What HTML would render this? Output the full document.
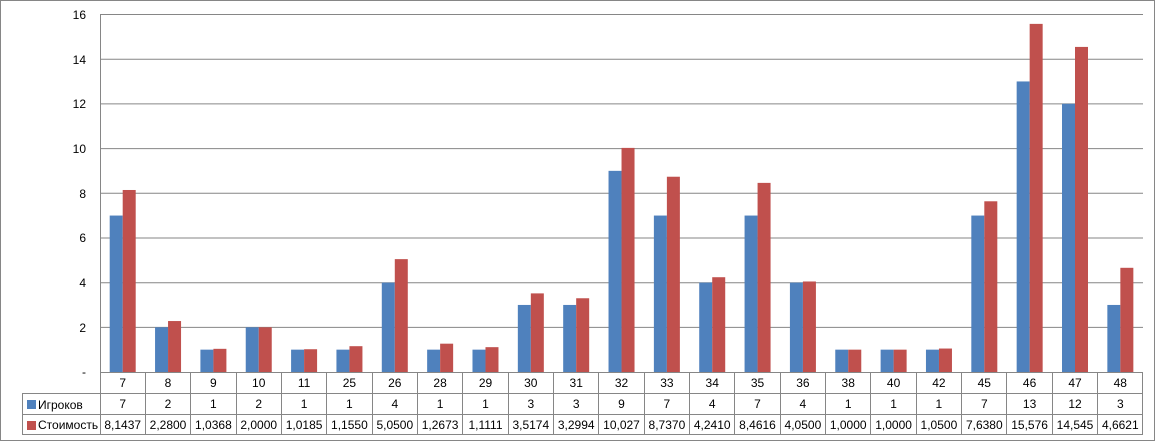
<!DOCTYPE html>
<html><head><meta charset="utf-8"><style>
html,body{margin:0;padding:0;background:#fff}
svg{display:block;font-family:"Liberation Sans",sans-serif;font-size:12px}
</style></head><body>
<svg width="1156" height="443" viewBox="0 0 1156 443">
<rect x="0.5" y="0.5" width="1154" height="440" fill="#fff" stroke="#868686"/>
<g stroke="#868686" stroke-width="1">
<line x1="100" y1="14.5" x2="1143" y2="14.5"/>
<line x1="100" y1="59.2" x2="1143" y2="59.2"/>
<line x1="100" y1="103.9" x2="1143" y2="103.9"/>
<line x1="100" y1="148.6" x2="1143" y2="148.6"/>
<line x1="100" y1="193.3" x2="1143" y2="193.3"/>
<line x1="100" y1="238" x2="1143" y2="238"/>
<line x1="100" y1="282.7" x2="1143" y2="282.7"/>
<line x1="100" y1="327.4" x2="1143" y2="327.4"/>
<line x1="100.5" y1="14.5" x2="100.5" y2="434"/>
</g>
<g fill="#000" text-anchor="end">
<text x="86" y="19">16</text><text x="86" y="64">14</text><text x="86" y="108">12</text><text x="86" y="153">10</text>
<text x="86" y="198">8</text><text x="86" y="242">6</text><text x="86" y="287">4</text><text x="86" y="332">2</text><text x="86" y="376">-</text>
</g>
<g transform="translate(0,372) scale(1,-22.35)">
<g transform="translate(100,0)"><rect x="9.7" width="13" height="7" fill="#4f81bd"/><rect x="22.7" width="13" height="8.1437" fill="#c0504d"/></g>
<g transform="translate(145.35,0)"><rect x="9.7" width="13" height="2" fill="#4f81bd"/><rect x="22.7" width="13" height="2.28" fill="#c0504d"/></g>
<g transform="translate(190.7,0)"><rect x="9.7" width="13" height="1" fill="#4f81bd"/><rect x="22.7" width="13" height="1.0368" fill="#c0504d"/></g>
<g transform="translate(236.04,0)"><rect x="9.7" width="13" height="2" fill="#4f81bd"/><rect x="22.7" width="13" height="2" fill="#c0504d"/></g>
<g transform="translate(281.39,0)"><rect x="9.7" width="13" height="1" fill="#4f81bd"/><rect x="22.7" width="13" height="1.0185" fill="#c0504d"/></g>
<g transform="translate(326.74,0)"><rect x="9.7" width="13" height="1" fill="#4f81bd"/><rect x="22.7" width="13" height="1.155" fill="#c0504d"/></g>
<g transform="translate(372.09,0)"><rect x="9.7" width="13" height="4" fill="#4f81bd"/><rect x="22.7" width="13" height="5.05" fill="#c0504d"/></g>
<g transform="translate(417.44,0)"><rect x="9.7" width="13" height="1" fill="#4f81bd"/><rect x="22.7" width="13" height="1.2673" fill="#c0504d"/></g>
<g transform="translate(462.78,0)"><rect x="9.7" width="13" height="1" fill="#4f81bd"/><rect x="22.7" width="13" height="1.1111" fill="#c0504d"/></g>
<g transform="translate(508.13,0)"><rect x="9.7" width="13" height="3" fill="#4f81bd"/><rect x="22.7" width="13" height="3.5174" fill="#c0504d"/></g>
<g transform="translate(553.48,0)"><rect x="9.7" width="13" height="3" fill="#4f81bd"/><rect x="22.7" width="13" height="3.2994" fill="#c0504d"/></g>
<g transform="translate(598.83,0)"><rect x="9.7" width="13" height="9" fill="#4f81bd"/><rect x="22.7" width="13" height="10.027" fill="#c0504d"/></g>
<g transform="translate(644.18,0)"><rect x="9.7" width="13" height="7" fill="#4f81bd"/><rect x="22.7" width="13" height="8.737" fill="#c0504d"/></g>
<g transform="translate(689.52,0)"><rect x="9.7" width="13" height="4" fill="#4f81bd"/><rect x="22.7" width="13" height="4.241" fill="#c0504d"/></g>
<g transform="translate(734.87,0)"><rect x="9.7" width="13" height="7" fill="#4f81bd"/><rect x="22.7" width="13" height="8.4616" fill="#c0504d"/></g>
<g transform="translate(780.22,0)"><rect x="9.7" width="13" height="4" fill="#4f81bd"/><rect x="22.7" width="13" height="4.05" fill="#c0504d"/></g>
<g transform="translate(825.57,0)"><rect x="9.7" width="13" height="1" fill="#4f81bd"/><rect x="22.7" width="13" height="1" fill="#c0504d"/></g>
<g transform="translate(870.92,0)"><rect x="9.7" width="13" height="1" fill="#4f81bd"/><rect x="22.7" width="13" height="1" fill="#c0504d"/></g>
<g transform="translate(916.26,0)"><rect x="9.7" width="13" height="1" fill="#4f81bd"/><rect x="22.7" width="13" height="1.05" fill="#c0504d"/></g>
<g transform="translate(961.61,0)"><rect x="9.7" width="13" height="7" fill="#4f81bd"/><rect x="22.7" width="13" height="7.638" fill="#c0504d"/></g>
<g transform="translate(1006.96,0)"><rect x="9.7" width="13" height="13" fill="#4f81bd"/><rect x="22.7" width="13" height="15.576" fill="#c0504d"/></g>
<g transform="translate(1052.3,0)"><rect x="9.7" width="13" height="12" fill="#4f81bd"/><rect x="22.7" width="13" height="14.545" fill="#c0504d"/></g>
<g transform="translate(1097.65,0)"><rect x="9.7" width="13" height="3" fill="#4f81bd"/><rect x="22.7" width="13" height="4.6621" fill="#c0504d"/></g>
</g>
<!-- table -->
<g stroke="#868686" stroke-width="1">
<line x1="100" y1="372.5" x2="1143" y2="372.5"/>
<line x1="22" y1="393.5" x2="1143" y2="393.5"/>
<line x1="22" y1="414.5" x2="1143" y2="414.5"/>
<line x1="22" y1="434.5" x2="1143" y2="434.5"/>
<line x1="22.5" y1="393" x2="22.5" y2="435"/>
<line x1="145.5" y1="372" x2="145.5" y2="435"/><line x1="190.5" y1="372" x2="190.5" y2="435"/>
<line x1="236.5" y1="372" x2="236.5" y2="435"/><line x1="281.5" y1="372" x2="281.5" y2="435"/>
<line x1="326.5" y1="372" x2="326.5" y2="435"/><line x1="372.5" y1="372" x2="372.5" y2="435"/>
<line x1="417.5" y1="372" x2="417.5" y2="435"/><line x1="462.5" y1="372" x2="462.5" y2="435"/>
<line x1="508.5" y1="372" x2="508.5" y2="435"/><line x1="553.5" y1="372" x2="553.5" y2="435"/>
<line x1="598.5" y1="372" x2="598.5" y2="435"/><line x1="644.5" y1="372" x2="644.5" y2="435"/>
<line x1="689.5" y1="372" x2="689.5" y2="435"/><line x1="734.5" y1="372" x2="734.5" y2="435"/>
<line x1="780.5" y1="372" x2="780.5" y2="435"/><line x1="825.5" y1="372" x2="825.5" y2="435"/>
<line x1="870.5" y1="372" x2="870.5" y2="435"/><line x1="916.5" y1="372" x2="916.5" y2="435"/>
<line x1="961.5" y1="372" x2="961.5" y2="435"/><line x1="1006.5" y1="372" x2="1006.5" y2="435"/>
<line x1="1052.5" y1="372" x2="1052.5" y2="435"/><line x1="1097.5" y1="372" x2="1097.5" y2="435"/>
<line x1="1142.5" y1="372" x2="1142.5" y2="435"/>
</g>
<rect x="27" y="400" width="9" height="9" fill="#4f81bd"/>
<rect x="27" y="421" width="9" height="9" fill="#c0504d"/>
<text x="38" y="409">Игроков</text>
<text x="38" y="429">Стоимость</text>
<g text-anchor="middle" fill="#000">
<text x="122.7" y="387">7</text><text x="168" y="387">8</text><text x="213.4" y="387">9</text><text x="258.7" y="387">10</text><text x="304.1" y="387">11</text><text x="349.4" y="387">25</text><text x="394.8" y="387">26</text><text x="440.1" y="387">28</text><text x="485.5" y="387">29</text><text x="530.8" y="387">30</text><text x="576.2" y="387">31</text><text x="621.5" y="387">32</text><text x="666.9" y="387">33</text><text x="712.2" y="387">34</text><text x="757.5" y="387">35</text><text x="802.9" y="387">36</text><text x="848.2" y="387">38</text><text x="893.6" y="387">40</text><text x="938.9" y="387">42</text><text x="984.3" y="387">45</text><text x="1029.6" y="387">46</text><text x="1075" y="387">47</text><text x="1120.3" y="387">48</text>
<text x="122.7" y="408">7</text><text x="168" y="408">2</text><text x="213.4" y="408">1</text><text x="258.7" y="408">2</text><text x="304.1" y="408">1</text><text x="349.4" y="408">1</text><text x="394.8" y="408">4</text><text x="440.1" y="408">1</text><text x="485.5" y="408">1</text><text x="530.8" y="408">3</text><text x="576.2" y="408">3</text><text x="621.5" y="408">9</text><text x="666.9" y="408">7</text><text x="712.2" y="408">4</text><text x="757.5" y="408">7</text><text x="802.9" y="408">4</text><text x="848.2" y="408">1</text><text x="893.6" y="408">1</text><text x="938.9" y="408">1</text><text x="984.3" y="408">7</text><text x="1029.6" y="408">13</text><text x="1075" y="408">12</text><text x="1120.3" y="408">3</text>
<text x="122.7" y="429">8,1437</text><text x="168" y="429">2,2800</text><text x="213.4" y="429">1,0368</text><text x="258.7" y="429">2,0000</text><text x="304.1" y="429">1,0185</text><text x="349.4" y="429">1,1550</text><text x="394.8" y="429">5,0500</text><text x="440.1" y="429">1,2673</text><text x="485.5" y="429">1,1111</text><text x="530.8" y="429">3,5174</text><text x="576.2" y="429">3,2994</text><text x="621.5" y="429">10,027</text><text x="666.9" y="429">8,7370</text><text x="712.2" y="429">4,2410</text><text x="757.5" y="429">8,4616</text><text x="802.9" y="429">4,0500</text><text x="848.2" y="429">1,0000</text><text x="893.6" y="429">1,0000</text><text x="938.9" y="429">1,0500</text><text x="984.3" y="429">7,6380</text><text x="1029.6" y="429">15,576</text><text x="1075" y="429">14,545</text><text x="1120.3" y="429">4,6621</text>
</g>
</svg>
</body></html>
